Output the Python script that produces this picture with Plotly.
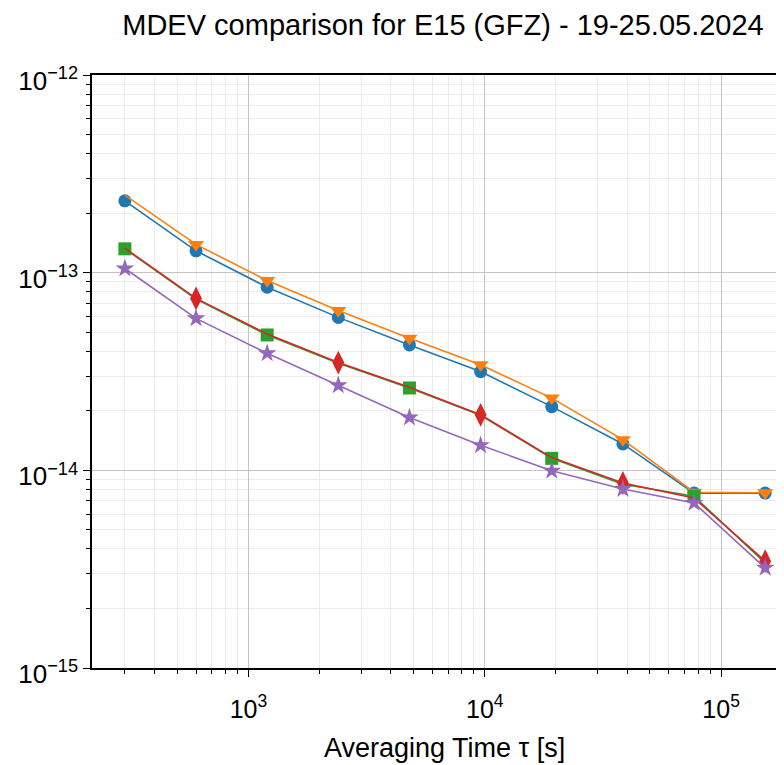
import plotly.graph_objects as go

tau = [300, 600, 1200, 2400, 4800, 9600, 19200, 38400, 76800, 153600]

series_blue = [2.31e-13, 1.29e-13, 8.44e-14, 5.94e-14, 4.31e-14, 3.16e-14, 2.10e-14, 1.36e-14, 7.67e-15, 7.67e-15]
series_orange = [2.47e-13, 1.39e-13, 9.12e-14, 6.43e-14, 4.66e-14, 3.42e-14, 2.32e-14, 1.43e-14, 7.75e-15, 7.70e-15]
series_green = [1.32e-13, 7.35e-14, 4.84e-14, 3.48e-14, 2.61e-14, 1.90e-14, 1.15e-14, 8.50e-15, 7.39e-15, 3.40e-15]
series_red = [1.33e-13, 7.41e-14, 4.90e-14, 3.51e-14, 2.63e-14, 1.91e-14, 1.16e-14, 8.63e-15, 7.24e-15, 3.47e-15]
series_purple = [1.05e-13, 5.87e-14, 3.91e-14, 2.69e-14, 1.85e-14, 1.34e-14, 9.95e-15, 8.05e-15, 6.84e-15, 3.21e-15]

x_ticks = [1e3, 1e4, 1e5]
x_ticklabels = ["10<sup>3</sup>", "10<sup>4</sup>", "10<sup>5</sup>"]
y_ticks = [1e-15, 1e-14, 1e-13, 1e-12]
y_ticklabels = ["10<sup>−15</sup>", "10<sup>−14</sup>", "10<sup>−13</sup>", "10<sup>−12</sup>"]

x_minor = [m * 10 ** k for k in range(2, 6) for m in range(2, 10)]
y_minor = [m * 10.0 ** k for k in range(-15, -12) for m in range(2, 10)]

styles = [
    (series_blue, "#1f77b4", "circle", 13, list(range(10))),
    (series_orange, "#ff7f0e", "triangle-down", 14, list(range(1, 10))),
    (series_green, "#2ca02c", "square", 13, [0, 2, 4, 6, 8]),
    (series_red, "#d62728", "diamond-tall", 17, [1, 3, 5, 7, 9]),
    (series_purple, "#9467bd", "star", 14, list(range(10))),
]

fig = go.Figure()
for vals, color, sym, sz, idx in styles:
    sizes = [sz if i in idx else 0 for i in range(len(tau))]
    fig.add_trace(go.Scatter(
        x=tau, y=vals, mode="lines+markers",
        line=dict(color=color, width=1.6),
        marker=dict(symbol=sym, size=sizes, color=color, opacity=1,
                    line=dict(width=0)),
        showlegend=False,
    ))

# the page body has an 8 px margin, so the figure is 8 px smaller
W, H = 776, 757
L, R, T, B = 84, 0, 67, 97
font = "Liberation Sans, Arial, sans-serif"
plot_h = H - T - B
plot_w = W - L - R
fig.update_layout(
    width=W, height=H,
    margin=dict(l=L, r=R, t=T, b=B),
    paper_bgcolor="white", plot_bgcolor="white",
    font=dict(family=font, color="black"),
    title=dict(text="MDEV comparison for E15 (GFZ) - 19-25.05.2024",
               x=435 / W, xref="container", xanchor="center",
               y=1 - 17 / H, yref="container", yanchor="middle",
               font=dict(size=29, family=font, color="black")),
    annotations=[dict(text="Averaging Time τ [s]", xref="paper", yref="paper",
                      x=(436 - L) / plot_w, y=-(740 - (H - B)) / plot_h,
                      xanchor="center", yanchor="middle", showarrow=False,
                      font=dict(size=27, family=font, color="black"))],
)
fig.update_xaxes(
    type="log", range=[2.338, 5.266], automargin=False,
    tickvals=x_ticks, ticktext=x_ticklabels,
    tickfont=dict(size=25), ticklabelstandoff=11,
    showline=True, linecolor="black", linewidth=1.5, mirror=True,
    ticks="outside", ticklen=7, tickwidth=1.2, tickcolor="black",
    showgrid=True, gridcolor="#c4c4c4", gridwidth=1,
    minor=dict(tickvals=x_minor, ticks="outside", ticklen=4, tickwidth=1,
               tickcolor="black", showgrid=True, gridcolor="#ececec", gridwidth=1),
    zeroline=False,
)
fig.update_yaxes(
    type="log", range=[-15, -12], automargin=False,
    tickvals=y_ticks, ticktext=y_ticklabels,
    tickfont=dict(size=26), ticklabelshift=6,
    showline=True, linecolor="black", linewidth=1.5,
    ticks="outside", ticklen=7, tickwidth=1.2, tickcolor="black",
    showgrid=True, gridcolor="#c4c4c4", gridwidth=1,
    minor=dict(tickvals=y_minor, ticks="outside", ticklen=4, tickwidth=1,
               tickcolor="black", showgrid=True, gridcolor="#ececec", gridwidth=1),
    zeroline=False,
)
fig.write_html("out.html")
